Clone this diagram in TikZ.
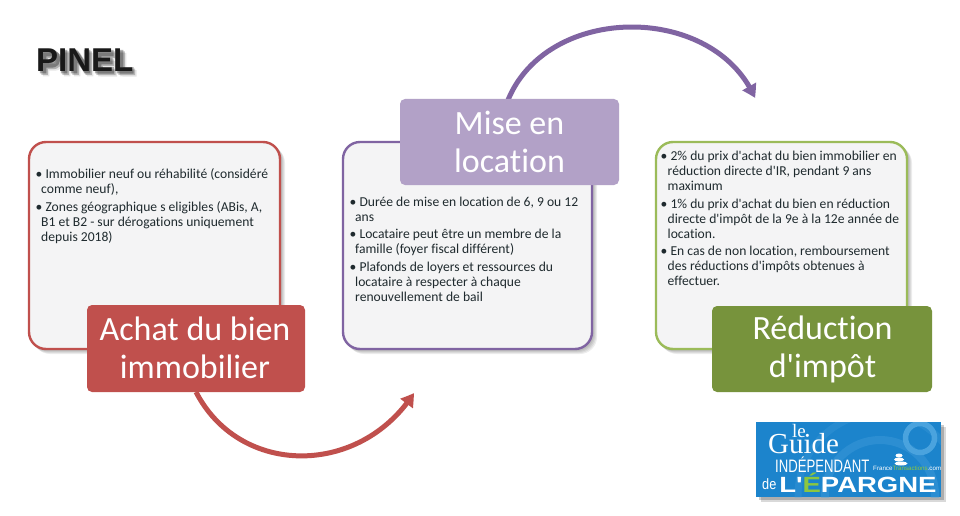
\documentclass[tikz,border=0pt]{standalone}
\usepackage{fontspec}
\setmainfont{Carlito}[Ligatures={TeXOff,NoCommon}]
\newfontfamily\arialf{Liberation Sans}
\newfontfamily\timesf{Liberation Serif}
\usetikzlibrary{arrows.meta,bending}
\definecolor{redc}{HTML}{C0504D}
\definecolor{purc}{HTML}{8064A2}
\definecolor{purl}{HTML}{B2A1C7}
\definecolor{grec}{HTML}{9BBB59}
\definecolor{gred}{HTML}{77933C}
\definecolor{cardbg}{HTML}{F4F4F5}
\definecolor{logob}{HTML}{1C84CC}
\definecolor{logol}{HTML}{4AA3DE}
\definecolor{logog}{HTML}{8CC63F}
\definecolor{txt}{HTML}{1F2A2E}
\tikzset{
  x=1pt,y=-1pt,
  softshadow/.style={fill=black,fill opacity=0.07,draw=none,rounded corners=#1},
  card/.style={draw=#1,line width=2.4pt,fill=cardbg,rounded corners=17pt},
  label/.style={fill=#1,rounded corners=5pt},
  labeltext/.style={text=white,align=center,font=\fontsize{34}{38}\selectfont},
  body/.style={anchor=north west,text=txt,inner sep=0pt,font=\fontsize{13.6}{15}\selectfont,align=left},
  flow/.style={draw=#1,line width=5pt,-{Triangle[length=13pt,width=15pt,bend]}},
  logotxt/.style={text=white,inner sep=0pt,anchor=base west},
}
\newcommand{\softbox}[5]{% x1 y1 x2 y2 r
  \foreach \d in {1,2,3,4}{
    \path[softshadow=#5] (#1+\d,#2+\d) rectangle (#3+\d+1,#4+\d+1);
  }
}
\begin{document}
\begin{tikzpicture}
\useasboundingbox (0,0) rectangle (960,516);
\fill[white] (0,0) rectangle (960,516);

% title, with its soft shadow drawn as strokes
\foreach \d/\o in {1.5/0.3,3/0.22,4.5/0.1}{
  \begin{scope}[xshift=\d pt,yshift=-\d pt]
    \draw[black,opacity=\o,line width=6.5pt,line join=miter]
      (41.5,48.4) -- (41.5,72)
      (41,51.6) -- (50,51.6) .. controls (57.5,51.6) and (57.5,63) .. (50,63) -- (41,63)
      (62.6,48.4) -- (62.6,72)
      (72.7,72) -- (72.7,48.4)
      (72.7,50) -- (85.7,70)
      (85.7,72) -- (85.7,48.4)
      (96.5,48.4) -- (96.5,72)
      (96,51.6) -- (112,51.6)
      (96,59.6) -- (111,59.6)
      (96,68.8) -- (112.5,68.8)
      (118.5,48.4) -- (118.5,72)
      (118,68.8) -- (132,68.8);
  \end{scope}
}
\node[anchor=base west,inner sep=0pt,text=black!90,font=\arialf\bfseries\fontsize{33}{33}\selectfont] (title) at (36,72) {PINEL};

% flow arrows
\coordinate (a1s) at (196,392);
\coordinate (a1e) at (414,393);
\coordinate (a2s) at (508,100);
\coordinate (a2e) at (755,98);
\draw[flow=redc] (a1s) .. controls (240,477) and (360,477) .. (a1e);
\draw[flow=purc] (a2s) .. controls (548,3) and (714,3) .. (a2e);

% cards
\softbox{29}{142}{280}{349}{17pt}
\softbox{343}{142}{592}{349}{17pt}
\softbox{656}{142}{907}{349}{17pt}
\draw[card=redc] (29,142) rectangle (280,349);
\draw[card=purc] (343,142) rectangle (592,349);
\draw[card=grec] (656,142) rectangle (907,349);

% card 1
\node[body] (t1) at (35.5,168.5) {\textbullet\ Immobilier neuf ou réhabilité (considéré\\
\hspace*{5.5pt}comme neuf),\\[2.5pt]
\textbullet\ Zones géographique s eligibles (ABis, A,\\
\hspace*{5.5pt}B1 et B2 - sur dérogations uniquement\\
\hspace*{5.5pt}depuis 2018)};

% card 2
\node[body] (t2) at (349.5,196.5) {\textbullet\ Durée de mise en location de 6, 9 ou 12\\
\hspace*{5.5pt}ans\\[2.5pt]
\textbullet\ Locataire peut être un membre de la\\
\hspace*{5.5pt}famille (foyer fiscal différent)\\[2.5pt]
\textbullet\ Plafonds de loyers et ressources du\\
\hspace*{5.5pt}locataire à respecter à chaque\\
\hspace*{5.5pt}renouvellement de bail};

% card 3
\node[body] (t3) at (660.5,151) {\textbullet\ 2\% du prix d'achat du bien immobilier en\\
\hspace*{7pt}réduction directe d'IR, pendant 9 ans\\
\hspace*{7pt}maximum\\[2.5pt]
\textbullet\ 1\% du prix d'achat du bien en réduction\\
\hspace*{7pt}directe d'impôt de la 9e à la 12e année de\\
\hspace*{7pt}location.\\[2.5pt]
\textbullet\ En cas de non location, remboursement\\
\hspace*{7pt}des réductions d'impôts obtenues à\\
\hspace*{7pt}effectuer.};

% labels
\fill[label=redc] (87,305) rectangle (305,392);
\node[labeltext] (l1) at (195,347.5) {Achat du bien\\immobilier};
\fill[label=purl] (400,99) rectangle (619,185);
\node[labeltext] (l2) at (509.5,141.5) {Mise en\\location};
\fill[label=gred] (712,306) rectangle (932,392);
\node[labeltext] (l3) at (822.5,349.5) {Réduction\\d'impôt};

% logo
\fill[black,opacity=0.2] (759,425) rectangle (944,500);
\fill[black,opacity=0.15] (761,427) rectangle (946,502);
\begin{scope}
\clip (756,422) rectangle (941,497);
\fill[logob] (756,422) rectangle (941,497);
\draw[logol,line width=8pt,opacity=0.35] (880,495) circle (55);
\draw[logol,line width=7pt,opacity=0.25] (880,495) circle (82);
\draw[logol,line width=5.5pt] (920,438) circle (14.5);
\end{scope}
\node[logotxt,font=\timesf\fontsize{19}{19}\selectfont] (lg1) at (792,437) {le};
\node[logotxt,font=\timesf\fontsize{29}{29}\selectfont] (lg2) at (768,453) {Guide};
\node[logotxt,font=\arialf\fontsize{18}{18}\selectfont,xscale=0.73] (lg3) at (775,472) {INDÉPENDANT};
\node[logotxt,font=\arialf\fontsize{6.2}{7}\selectfont] (lg4) at (873,470.5) {France\textcolor{logog}{Transactions}.com};
\node[logotxt,font=\arialf\fontsize{15}{15}\selectfont,xscale=0.85] (lg5) at (762,489) {de};
\node[logotxt,font=\arialf\bfseries\fontsize{22}{22}\selectfont,xscale=1.25] (lg6) at (779,492) {L'\textcolor{logog}{É}PARGNE};
\fill[white] (899,455.5) ellipse (3.5 and 2);
\fill[white] (899,459.5) ellipse (5 and 2);
\fill[white] (901,463.5) ellipse (6.5 and 2);
\end{tikzpicture}
\end{document}
